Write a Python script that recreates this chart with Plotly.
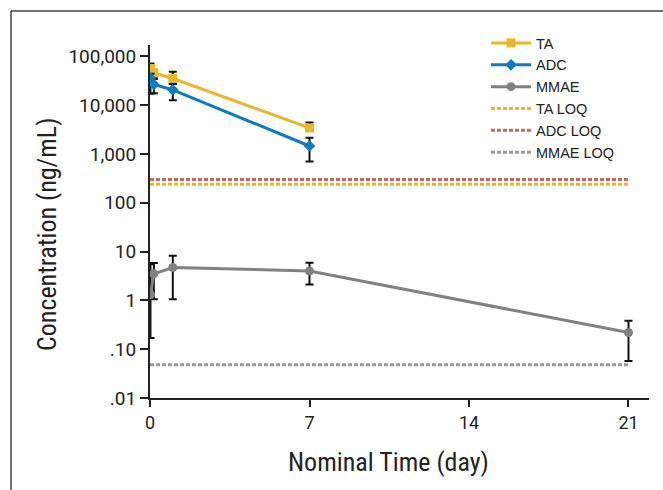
import plotly.graph_objects as go

# ---- data ----
ta_time = [0.02, 0.17, 1, 7]
ta_conc = [56000, 46000, 35000, 3400]
ta_upper = [71000, 52000, 48000, 4400]
ta_lower = [42000, 38000, 27000, 3000]

adc_time = [0.02, 0.17, 1, 7]
adc_conc = [36000, 26500, 20500, 1450]
adc_upper = [44000, 34000, 27000, 2150]
adc_lower = [17000, 17500, 12500, 700]

mmae_time = [0.02, 0.17, 1, 7, 21]
mmae_conc = [1.3, 3.5, 4.7, 4.0, 0.22]
mmae_upper = [5.5, 5.8, 8.2, 5.9, 0.38]
mmae_lower = [0.17, 1.05, 1.05, 2.1, 0.057]

loq_x = [0, 21]
ta_loq = 240
adc_loq = 300
mmae_loq = 0.048

x_ticks = [0, 7, 14, 21]
y_ticks = [0.01, 0.1, 1, 10, 100, 1000, 10000, 100000]
y_tick_labels = [".01", ".10", "1", "10", "100", "1,000", "10,000", "100,000"]

YELLOW = "#E9B925"
BLUE = "#0A7CC1"
GRAY = "#818181"
RED = "#C46A62"
LOQGRAY = "#999999"
FONT = "Liberation Sans Narrow, Roboto Condensed, Liberation Sans, sans-serif"
TICKFONT = "Roboto, Liberation Sans, sans-serif"
LEGFONT = "Liberation Sans, Arial, sans-serif"


def err(vals, up, lo):
    return dict(type="data", symmetric=False,
                array=[u - v for u, v in zip(up, vals)],
                arrayminus=[v - l for l, v in zip(lo, vals)],
                color="#111111", thickness=2, width=4)


fig = go.Figure()
fig.add_trace(go.Scatter(x=ta_time, y=ta_conc, name="TA", mode="lines+markers",
                         line=dict(color=YELLOW, width=3),
                         marker=dict(symbol="square", size=9, color=YELLOW),
                         error_y=err(ta_conc, ta_upper, ta_lower)))
fig.add_trace(go.Scatter(x=adc_time, y=adc_conc, name="ADC", mode="lines+markers",
                         line=dict(color=BLUE, width=3),
                         marker=dict(symbol="diamond", size=9, color=BLUE),
                         error_y=err(adc_conc, adc_upper, adc_lower)))
fig.add_trace(go.Scatter(x=mmae_time, y=mmae_conc, name="MMAE", mode="lines+markers",
                         line=dict(color=GRAY, width=3),
                         marker=dict(symbol="circle", size=9, color=GRAY),
                         error_y=err(mmae_conc, mmae_upper, mmae_lower)))
fig.add_trace(go.Scatter(x=loq_x, y=[ta_loq] * 2, name="TA LOQ", mode="lines",
                         line=dict(color=YELLOW, width=3, dash="4px,2px")))
fig.add_trace(go.Scatter(x=loq_x, y=[adc_loq] * 2, name="ADC LOQ", mode="lines",
                         line=dict(color=RED, width=3, dash="4px,2px")))
fig.add_trace(go.Scatter(x=loq_x, y=[mmae_loq] * 2, name="MMAE LOQ", mode="lines",
                         line=dict(color=LOQGRAY, width=3, dash="4px,2px")))

L, R, T, B = 150, 14, 45, 92
W, H = 663, 490
pw, ph = W - L - R, H - T - B


def px(xp):
    return (xp - L) / pw


def py(yp):
    return (H - B - yp) / ph


fig.update_layout(
    width=W, height=H,
    margin=dict(l=L, r=R, t=T, b=B, autoexpand=False),
    paper_bgcolor="white", plot_bgcolor="white",
    font=dict(family=FONT, color="#222222"),
    showlegend=True,
    legend=dict(x=px(486), y=py(27), xanchor="left", yanchor="top",
                font=dict(size=14.5, family=LEGFONT, color="#222"),
                bgcolor="rgba(0,0,0,0)", itemwidth=40, tracegroupgap=0),
    xaxis=dict(range=[0, 21.9], tickvals=x_ticks, ticks="outside", ticklen=7,
               tickwidth=1.5, tickcolor="#222", showline=True, linecolor="#222",
               linewidth=2, showgrid=False, zeroline=False, automargin=False,
               tickfont=dict(size=18, family=TICKFONT)),
    yaxis=dict(type="log", range=[-2, 5.23], tickvals=y_ticks, ticktext=y_tick_labels,
               ticks="outside", ticklen=8, tickwidth=1.5, tickcolor="#222",
               showline=True, linecolor="#222", linewidth=2, showgrid=False,
               zeroline=False, automargin=False, tickfont=dict(size=19, family=TICKFONT)),
    annotations=[
        dict(text="Nominal Time (day)", xref="paper", yref="paper",
             x=px(388), y=py(462), xanchor="center", yanchor="middle",
             showarrow=False, font=dict(size=26, family=FONT, color="#222")),
        dict(text="Concentration (ng/mL)", xref="paper", yref="paper",
             x=px(47), y=py(235), xanchor="center", yanchor="middle", textangle=-90,
             showarrow=False, font=dict(size=26, family=FONT, color="#222")),
    ],
    shapes=[
        dict(type="line", xref="paper", yref="paper",
             x0=px(11), x1=px(680), y0=py(11), y1=py(11),
             line=dict(color="#444444", width=1.5)),
        dict(type="line", xref="paper", yref="paper",
             x0=px(11), x1=px(11), y0=py(11), y1=py(510),
             line=dict(color="#444444", width=1.5)),
    ],
)

fig.write_html("out.html", config={"displayModeBar": False},
               post_script="document.body.style.margin='0';document.body.style.overflow='hidden';")
